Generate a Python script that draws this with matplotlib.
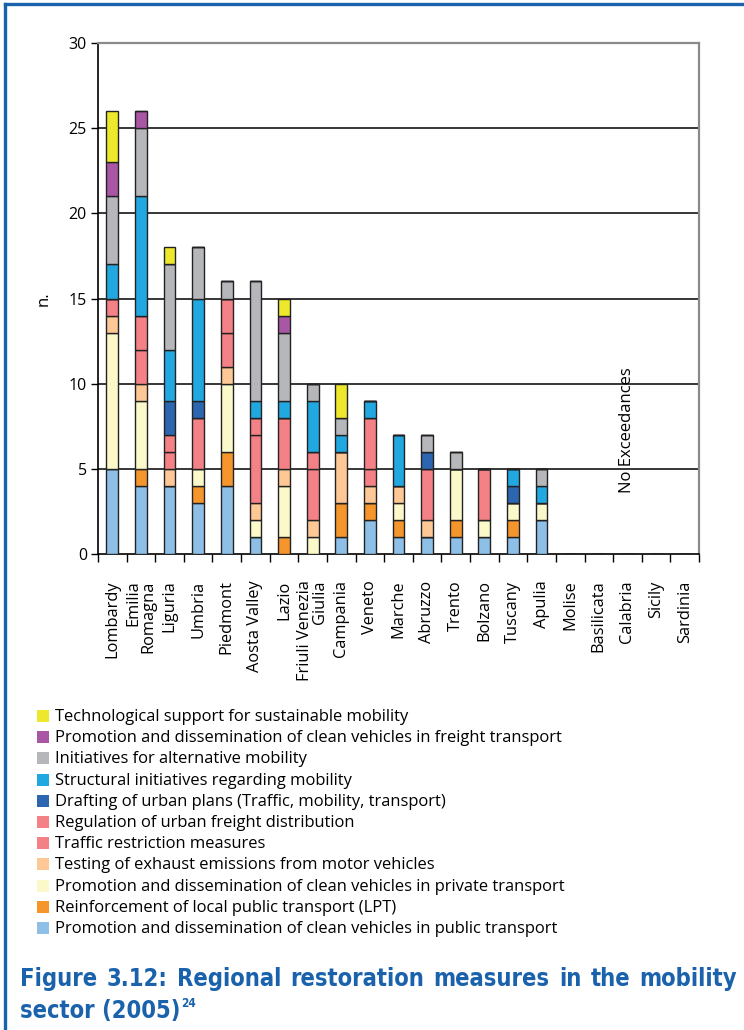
import matplotlib
matplotlib.use("Agg")
import matplotlib.pyplot as plt
from matplotlib.patches import Rectangle
from matplotlib.lines import Line2D
import numpy as np

plt.rcParams['font.family'] = ['Open Sans', 'DejaVu Sans']

regions = ["Lombardy", "Emilia\nRomagna", "Liguria", "Umbria", "Piedmont", "Aosta Valley",
           "Lazio", "Friuli Venezia\nGiulia", "Campania", "Veneto", "Marche", "Abruzzo",
           "Trento", "Bolzano", "Tuscany", "Apulia", "Molise", "Basilicata", "Calabria",
           "Sicily", "Sardinia"]

# one list per measure, bottom of the stack first
public_vehicles = [5, 4, 4, 3, 4, 1, 0, 0, 1, 2, 1, 1, 1, 1, 1, 2, 0, 0, 0, 0, 0]
local_transport = [0, 1, 0, 1, 2, 0, 1, 0, 2, 1, 1, 0, 1, 0, 1, 0, 0, 0, 0, 0, 0]
private_vehicles = [8, 4, 0, 1, 4, 1, 3, 1, 0, 0, 1, 0, 3, 1, 1, 1, 0, 0, 0, 0, 0]
exhaust_testing = [1, 1, 1, 0, 1, 1, 1, 1, 3, 1, 1, 1, 0, 0, 0, 0, 0, 0, 0, 0, 0]
traffic_restriction = [1, 2, 1, 3, 2, 4, 3, 3, 0, 1, 0, 3, 0, 3, 0, 0, 0, 0, 0, 0, 0]
freight_regulation = [0, 2, 1, 0, 2, 1, 0, 1, 0, 3, 0, 0, 0, 0, 0, 0, 0, 0, 0, 0, 0]
urban_plans = [0, 0, 2, 1, 0, 0, 0, 0, 0, 0, 0, 1, 0, 0, 1, 0, 0, 0, 0, 0, 0]
structural = [2, 7, 3, 6, 0, 1, 1, 3, 1, 1, 3, 0, 0, 0, 1, 1, 0, 0, 0, 0, 0]
alternative = [4, 4, 5, 3, 1, 7, 4, 1, 1, 0, 0, 1, 1, 0, 0, 1, 0, 0, 0, 0, 0]
freight_vehicles = [2, 1, 0, 0, 0, 0, 1, 0, 0, 0, 0, 0, 0, 0, 0, 0, 0, 0, 0, 0, 0]
tech_support = [3, 0, 1, 0, 0, 0, 1, 0, 2, 0, 0, 0, 0, 0, 0, 0, 0, 0, 0, 0, 0]

series = [
    ("Promotion and dissemination of clean vehicles in public transport", public_vehicles, "#8dbfe7"),
    ("Reinforcement of local public transport (LPT)", local_transport, "#f5962c"),
    ("Promotion and dissemination of clean vehicles in private transport", private_vehicles, "#fbf9c9"),
    ("Testing of exhaust emissions from motor vehicles", exhaust_testing, "#fdc896"),
    ("Traffic restriction measures", traffic_restriction, "#f38185"),
    ("Regulation of urban freight distribution", freight_regulation, "#f38185"),
    ("Drafting of urban plans (Traffic, mobility, transport)", urban_plans, "#2d66b0"),
    ("Structural initiatives regarding mobility", structural, "#22a8e1"),
    ("Initiatives for alternative mobility", alternative, "#b6b7bb"),
    ("Promotion and dissemination of clean vehicles in freight transport", freight_vehicles, "#a957a4"),
    ("Technological support for sustainable mobility", tech_support, "#ede82c"),
]

W, H = 744, 1030
fig = plt.figure(figsize=(7.44, 10.30), dpi=100)
ax = fig.add_axes([98/W, 1-554/H, 601/W, 511/H])

x = np.arange(len(regions))
bottom = np.zeros(len(regions))
for name, vals, col in series:
    vals = np.array(vals)
    ax.bar(x, vals, 0.41, bottom=bottom, color=col, edgecolor="#222222", linewidth=1.0, zorder=3)
    bottom += vals

ax.set_xlim(-0.5, len(regions) - 0.5)
ax.set_ylim(0, 30)
ax.set_yticks(range(0, 31, 5))
for v in range(5, 30, 5):
    ax.axhline(v, color="black", lw=1.1, zorder=1)

ax.set_xticks(x)
ax.set_xticklabels(regions, rotation=90, fontsize=11.8, va="top", ha="center",
                   multialignment="right", linespacing=0.95)
ax.set_xticks(np.arange(-0.5, len(regions), 1), minor=True)
ax.tick_params(axis="x", which="major", length=0, pad=19)
ax.tick_params(axis="x", which="minor", length=6, width=1, direction="out")
ax.tick_params(axis="y", length=5, width=1, labelsize=11.5, pad=3)

ax.spines["top"].set_color("#8a8a8a")
ax.spines["right"].set_color("#8a8a8a")
ax.spines["top"].set_linewidth(1.6)
ax.spines["right"].set_linewidth(1.6)
ax.spines["left"].set_linewidth(1.2)
ax.spines["bottom"].set_linewidth(1.2)

ax.set_ylabel("n.", fontsize=12, labelpad=12)
ax.text(18, 7.3, "No Exceedances", rotation=90, ha="center", va="center", fontsize=12, zorder=4)

# legend, top entry first
for i, (name, _, col) in enumerate(series[::-1]):
    yc = 716 + i * 21.2
    fig.add_artist(Rectangle((37/W, 1-(yc+6)/H), 12/W, 12/H, facecolor=col,
                             edgecolor="none", transform=fig.transFigure))
    fig.text(55/W, 1-(yc+1)/H, name, va="center", ha="left", fontsize=11.9)

# blue frame
blue = "#1b62ad"
fig.add_artist(Line2D([5/W, 1], [1-4/H, 1-4/H], color=blue, lw=2.4, transform=fig.transFigure))
fig.add_artist(Line2D([5/W, 5/W], [0, 1-4/H], color=blue, lw=2.4, transform=fig.transFigure))

# caption, first line justified
title_font = dict(fontsize=17, fontweight="bold", color=blue,
                  family=["Liberation Sans Narrow", "DejaVu Sans"], fontstretch="condensed")
words = "Figure 3.12: Regional restoration measures in the mobility".split()
fig.canvas.draw()
r = fig.canvas.get_renderer()
tmp = [fig.text(0, 0, w, **title_font) for w in words]
widths = [t.get_window_extent(r).width for t in tmp]
for t in tmp:
    t.remove()
left, right = 20, 737
gap = (right - left - sum(widths)) / (len(words) - 1)
pos = left
for w, wd in zip(words, widths):
    fig.text(pos/W, 1-986/H, w, va="baseline", **title_font)
    pos += wd + gap
t2 = fig.text(20/W, 1-1018/H, "sector (2005)", va="baseline", **title_font)
w2 = t2.get_window_extent(r).width
sup = dict(title_font)
sup["fontsize"] = 8.5
fig.text((20 + w2 + 1)/W, 1-1007/H, "24", va="baseline", **sup)

fig.savefig("out.png", dpi=100)
